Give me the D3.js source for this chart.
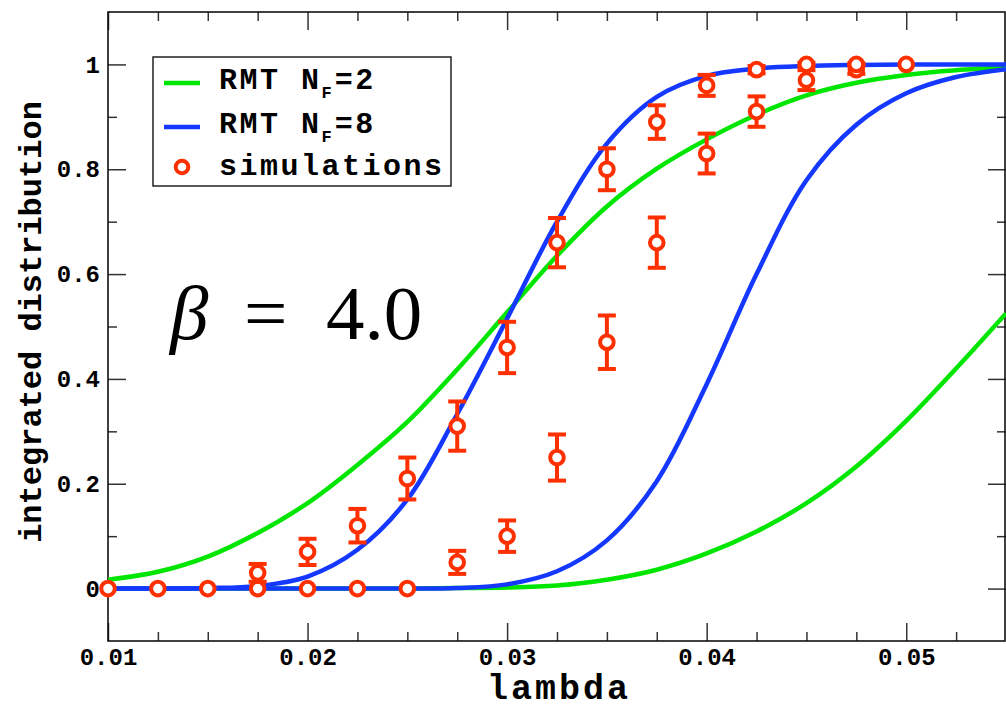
<!DOCTYPE html>
<html>
<head>
<meta charset="utf-8">
<script src="https://cdn.jsdelivr.net/npm/d3@7"></script>
<style>
  html, body { margin: 0; padding: 0; background: #fff; }
  svg { display: block; }
  .mono { font-family: "Liberation Mono", "DejaVu Sans Mono", monospace; font-weight: bold; }
</style>
</head>
<body>
<svg id="chart" width="1006" height="707"></svg>
<script>
// lambda grid for the RMT curves
const lambdaGrid = [0.01, 0.0125, 0.015, 0.0175, 0.02, 0.0225, 0.025, 0.0275, 0.03, 0.0325,
  0.035, 0.0375, 0.04, 0.0425, 0.045, 0.0475, 0.05, 0.0525, 0.055]

// RMT N_F=2 (green), two curves
const rmtNf2Left = [0.017, 0.032, 0.061, 0.106, 0.163, 0.236, 0.318, 0.418, 0.527, 0.635,
  0.729, 0.801, 0.857, 0.904, 0.941, 0.965, 0.98, 0.989, 0.994]
const rmtNf2Right = [0, 0, 0, 0, 0, 0, 0, 0.001, 0.002, 0.006,
  0.017, 0.036, 0.067, 0.109, 0.163, 0.233, 0.32, 0.42, 0.525]

// RMT N_F=8 (blue), two curves
const rmtNf8Left = [0, 0, 0.001, 0.005, 0.023, 0.074, 0.17, 0.333, 0.515, 0.70,
  0.849, 0.938, 0.978, 0.992, 0.997, 0.999, 1, 1, 1]
const rmtNf8Right = [0, 0, 0, 0, 0, 0, 0, 0.001, 0.008, 0.033,
  0.092, 0.205, 0.39, 0.60, 0.779, 0.885, 0.945, 0.976, 0.991]

// simulations, first set
const simLambdaA = [0.01, 0.0125, 0.015, 0.0175, 0.02, 0.0225, 0.025, 0.0275, 0.03, 0.0325,
  0.035, 0.0375, 0.04, 0.0425, 0.045, 0.0475, 0.05]
const simValueA = [0, 0, 0, 0.03, 0.07, 0.12, 0.21, 0.31, 0.46, 0.66,
  0.80, 0.89, 0.96, 0.99, 1.0, 1.0, 1.0]
const simErrorA = [0, 0, 0, 0.017, 0.025, 0.032, 0.04, 0.047, 0.049, 0.047,
  0.04, 0.032, 0.02, 0.007, 0.003, 0.002, 0]

// simulations, second set
const simLambdaB = [0.0175, 0.02, 0.0225, 0.025, 0.0275, 0.03, 0.0325, 0.035, 0.0375, 0.04,
  0.0425, 0.045, 0.0475]
const simValueB = [0, 0, 0, 0, 0.05, 0.10, 0.25, 0.47, 0.66, 0.83, 0.91, 0.97, 0.99]
const simErrorB = [0, 0, 0, 0, 0.022, 0.03, 0.044, 0.051, 0.048, 0.038, 0.029, 0.019, 0.008]

const xMajor = [0.01, 0.02, 0.03, 0.04, 0.05]
const xMinor = [0.0125, 0.015, 0.0175, 0.0225, 0.025, 0.0275, 0.0325, 0.035, 0.0375,
  0.0425, 0.045, 0.0475, 0.0525]
const yMajor = [0, 0.2, 0.4, 0.6, 0.8, 1]
const yMinor = [0.1, 0.3, 0.5, 0.7, 0.9]

const GREEN = '#00e600'
const BLUE = '#1438ff'
const RED = '#ff3000'

const margin = { left: 108, top: 12, right: 1006, bottom: 641 }

const svg = d3.select('#chart')

const x = d3.scaleLinear().domain([0.01, 0.055]).range([margin.left, margin.right])
const y = d3.scaleLinear().domain([-0.1, 1.1]).range([margin.bottom, margin.top])

// clip for the curves
svg.append('defs').append('clipPath').attr('id', 'plot-clip')
  .append('rect')
  .attr('x', margin.left).attr('y', margin.top)
  .attr('width', margin.right - margin.left).attr('height', margin.bottom - margin.top)

// axes (ticks pointing inward on all four sides)
function styleAxis(g) {
  g.select('.domain').remove()
  g.selectAll('.tick line').attr('stroke', '#333').attr('stroke-width', 1.5)
}

const fmtY = d => d === 0 ? '0' : d === 1 ? '1' : d3.format('.1f')(d)

svg.append('g')
  .attr('transform', `translate(0,${margin.bottom})`)
  .call(d3.axisBottom(x).tickValues(xMajor).tickSize(-18).tickPadding(0).tickFormat(d3.format('.2f')))
  .call(styleAxis)
  .call(g => g.selectAll('text')
    .attr('class', 'mono')
    .attr('font-size', 24)
    .attr('fill', '#000')
    .attr('dy', null)
    .attr('y', 24))
svg.append('g')
  .attr('transform', `translate(0,${margin.bottom})`)
  .call(d3.axisBottom(x).tickValues(xMinor).tickSize(-9).tickFormat(''))
  .call(styleAxis)
svg.append('g')
  .attr('transform', `translate(0,${margin.top})`)
  .call(d3.axisTop(x).tickValues(xMajor).tickSize(-18).tickFormat(''))
  .call(styleAxis)
svg.append('g')
  .attr('transform', `translate(0,${margin.top})`)
  .call(d3.axisTop(x).tickValues(xMinor).tickSize(-9).tickFormat(''))
  .call(styleAxis)

svg.append('g')
  .attr('transform', `translate(${margin.left},0)`)
  .call(d3.axisLeft(y).tickValues(yMajor).tickSize(-18).tickPadding(8).tickFormat(fmtY))
  .call(styleAxis)
  .call(g => g.selectAll('text')
    .attr('class', 'mono')
    .attr('font-size', 24)
    .attr('fill', '#000')
    .attr('x', -8)
    .attr('dy', '0.32em'))
svg.append('g')
  .attr('transform', `translate(${margin.left},0)`)
  .call(d3.axisLeft(y).tickValues(yMinor).tickSize(-9).tickFormat(''))
  .call(styleAxis)
svg.append('g')
  .attr('transform', `translate(${margin.right},0)`)
  .call(d3.axisRight(y).tickValues(yMajor).tickSize(-18).tickFormat(''))
  .call(styleAxis)
svg.append('g')
  .attr('transform', `translate(${margin.right},0)`)
  .call(d3.axisRight(y).tickValues(yMinor).tickSize(-9).tickFormat(''))
  .call(styleAxis)

// frame
svg.append('rect')
  .attr('x', margin.left).attr('y', margin.top)
  .attr('width', margin.right - margin.left - 1).attr('height', margin.bottom - margin.top)
  .attr('fill', 'none').attr('stroke', '#111').attr('stroke-width', 1.6)

// curves
const line = d3.line()
  .x((d, i) => x(lambdaGrid[i]))
  .y(d => y(d))
  .curve(d3.curveCatmullRom.alpha(0.5))

const curves = svg.append('g').attr('clip-path', 'url(#plot-clip)')
;[[rmtNf2Left, GREEN], [rmtNf2Right, GREEN], [rmtNf8Left, BLUE], [rmtNf8Right, BLUE]]
  .forEach(([vals, color]) => {
    curves.append('path')
      .datum(vals)
      .attr('d', line)
      .attr('fill', 'none')
      .attr('stroke', color)
      .attr('stroke-width', 4.5)
  })

// simulations with error bars
function drawSim(lams, vals, errs) {
  const pts = lams.map((l, i) => ({ l, v: vals[i], e: errs[i] }))
  const g = svg.append('g')
  const bars = g.selectAll('.err').data(pts.filter(p => p.e > 0)).join('g')
    .attr('stroke', RED).attr('stroke-width', 4)
  bars.append('line')
    .attr('x1', d => x(d.l)).attr('x2', d => x(d.l))
    .attr('y1', d => y(d.v - d.e)).attr('y2', d => y(d.v + d.e))
  bars.append('line')
    .attr('x1', d => x(d.l) - 9).attr('x2', d => x(d.l) + 9)
    .attr('y1', d => y(d.v + d.e)).attr('y2', d => y(d.v + d.e))
  bars.append('line')
    .attr('x1', d => x(d.l) - 9).attr('x2', d => x(d.l) + 9)
    .attr('y1', d => y(d.v - d.e)).attr('y2', d => y(d.v - d.e))
  g.selectAll('circle').data(pts).join('circle')
    .attr('cx', d => x(d.l)).attr('cy', d => y(d.v)).attr('r', 6.8)
    .attr('fill', '#fff').attr('stroke', RED).attr('stroke-width', 4)
}
drawSim(simLambdaB, simValueB, simErrorB)
drawSim(simLambdaA, simValueA, simErrorA)

// axis titles
svg.append('text')
  .attr('class', 'mono')
  .attr('x', 559).attr('y', 699)
  .attr('text-anchor', 'middle')
  .attr('font-size', 35)
  .style('letter-spacing', '3px')
  .text('lambda')

svg.append('text')
  .attr('class', 'mono')
  .attr('transform', 'translate(41,322) rotate(-90)')
  .attr('text-anchor', 'middle')
  .attr('font-size', 32)
  .text('integrated distribution')

// beta annotation
const beta = svg.append('text')
  .attr('y', 339)
  .attr('font-family', '"Liberation Serif", "DejaVu Serif", serif')
  .attr('font-size', 77)
beta.append('tspan').attr('x', 170).attr('font-style', 'italic').text('β')
beta.append('tspan').attr('x', 244).text('=')
beta.append('tspan').attr('x', 326).text('4.0')

// legend
const legend = svg.append('g')
legend.append('rect')
  .attr('x', 153).attr('y', 57).attr('width', 298).attr('height', 129)
  .attr('fill', '#fff').attr('stroke', '#222').attr('stroke-width', 1.5)

const legendItems = [
  { label: 'RMT N', sub: 'F', rest: '=2', color: GREEN, type: 'line', y: 83 },
  { label: 'RMT N', sub: 'F', rest: '=8', color: BLUE, type: 'line', y: 127 },
  { label: 'simulations', color: RED, type: 'circle', y: 167 },
]
legendItems.forEach(item => {
  if (item.type === 'line') {
    legend.append('line')
      .attr('x1', 164).attr('x2', 200).attr('y1', item.y).attr('y2', item.y)
      .attr('stroke', item.color).attr('stroke-width', 4.5)
  } else {
    legend.append('circle')
      .attr('cx', 182).attr('cy', item.y).attr('r', 6.3)
      .attr('fill', '#fff').attr('stroke', item.color).attr('stroke-width', 4)
  }
  const t = legend.append('text')
    .attr('class', 'mono')
    .attr('x', 219).attr('y', item.y + 6 + (item.type === 'circle' ? 2 : 0))
    .attr('font-size', 30)
    .style('letter-spacing', '2.5px')
    .text(item.label)
  if (item.sub) {
    t.append('tspan').attr('font-size', 17).attr('dy', 9).style('letter-spacing', '0px').text(item.sub)
    t.append('tspan').attr('dy', -9).attr('dx', 3).text(item.rest)
  }
})
</script>
</body>
</html>
